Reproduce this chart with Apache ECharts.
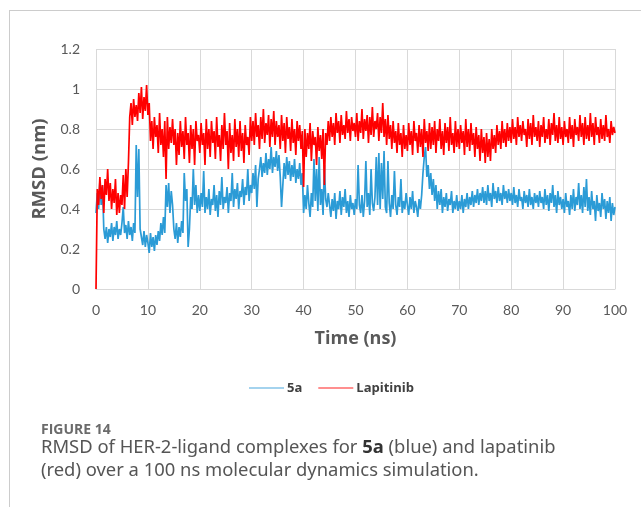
<!DOCTYPE html>
<html>
<head>
<meta charset="utf-8">
<title>RMSD of HER-2-ligand complexes</title>
<script src="https://cdn.jsdelivr.net/npm/echarts@6/dist/echarts.min.js"></script>
<style>
  html, body { margin: 0; padding: 0; background: #fff; }
  #chart { width: 641px; height: 507px; }
</style>
</head>
<body>
<div id="chart"></div>
<script>
// time step between samples (ns)
const timeStep = 0.25;

const xTicks = [0, 10, 20, 30, 40, 50, 60, 70, 80, 90, 100];
const yTicks = [0, 0.2, 0.4, 0.6, 0.8, 1, 1.2];

const seriesNames = ["5a", "Lapitinib"];

// 5a, one row = 5 ns
const rmsd5a = [
  0.38, 0.48, 0.40, 0.54, 0.42, 0.52, 0.30, 0.25, 0.31, 0.23, 0.30, 0.26, 0.33, 0.24, 0.31, 0.27, 0.34, 0.25, 0.30, 0.27,
  0.33, 0.41, 0.28, 0.32, 0.25, 0.34, 0.27, 0.31, 0.24, 0.33, 0.28, 0.72, 0.46, 0.70, 0.30, 0.26, 0.22, 0.29, 0.21, 0.27,
  0.23, 0.18, 0.28, 0.21, 0.26, 0.19, 0.27, 0.22, 0.29, 0.24, 0.33, 0.27, 0.36, 0.28, 0.52, 0.41, 0.53, 0.38, 0.49, 0.42,
  0.30, 0.25, 0.33, 0.23, 0.31, 0.26, 0.34, 0.28, 0.58, 0.44, 0.50, 0.21, 0.30, 0.46, 0.40, 0.60, 0.42, 0.52, 0.38, 0.47,
  0.39, 0.48, 0.41, 0.59, 0.38, 0.46, 0.40, 0.50, 0.37, 0.45, 0.42, 0.52, 0.39, 0.47, 0.36, 0.49, 0.42, 0.56, 0.40, 0.46,
  0.43, 0.51, 0.38, 0.48, 0.44, 0.58, 0.41, 0.50, 0.45, 0.53, 0.40, 0.49, 0.46, 0.55, 0.42, 0.51, 0.47, 0.60, 0.44, 0.52,
  0.48, 0.58, 0.50, 0.62, 0.41, 0.55, 0.60, 0.66, 0.56, 0.63, 0.58, 0.68, 0.57, 0.65, 0.60, 0.71, 0.58, 0.66, 0.61, 0.69,
  0.59, 0.67, 0.56, 0.41, 0.52, 0.63, 0.55, 0.66, 0.57, 0.64, 0.54, 0.62, 0.56, 0.65, 0.53, 0.60, 0.55, 0.63, 0.52, 0.58,
  0.38, 0.47, 0.40, 0.52, 0.43, 0.36, 0.48, 0.41, 0.65, 0.44, 0.60, 0.39, 0.66, 0.42, 0.50, 0.37, 0.62, 0.45, 0.41, 0.48,
  0.42, 0.36, 0.45, 0.39, 0.48, 0.35, 0.44, 0.40, 0.49, 0.37, 0.46, 0.41, 0.50, 0.38, 0.44, 0.36, 0.47, 0.40, 0.43, 0.37,
  0.45, 0.40, 0.62, 0.42, 0.38, 0.47, 0.36, 0.44, 0.64, 0.41, 0.48, 0.37, 0.60, 0.43, 0.39, 0.46, 0.66, 0.42, 0.68, 0.40,
  0.63, 0.45, 0.69, 0.41, 0.38, 0.64, 0.43, 0.36, 0.47, 0.40, 0.59, 0.42, 0.37, 0.46, 0.41, 0.55, 0.38, 0.44, 0.40, 0.48,
  0.42, 0.37, 0.46, 0.40, 0.49, 0.38, 0.44, 0.41, 0.36, 0.45, 0.40, 0.47, 0.58, 0.66, 0.71, 0.56, 0.62, 0.50, 0.58, 0.47,
  0.55, 0.44, 0.52, 0.40, 0.49, 0.42, 0.50, 0.38, 0.46, 0.41, 0.48, 0.39, 0.45, 0.42, 0.49, 0.38, 0.44, 0.40, 0.47, 0.39,
  0.44, 0.40, 0.47, 0.38, 0.45, 0.41, 0.48, 0.40, 0.46, 0.42, 0.49, 0.41, 0.47, 0.43, 0.50, 0.42, 0.48, 0.44, 0.51, 0.43,
  0.49, 0.42, 0.52, 0.44, 0.48, 0.41, 0.53, 0.45, 0.49, 0.43, 0.51, 0.44, 0.48, 0.42, 0.52, 0.45, 0.49, 0.43, 0.50, 0.44,
  0.48, 0.42, 0.51, 0.43, 0.47, 0.41, 0.50, 0.44, 0.46, 0.40, 0.49, 0.43, 0.47, 0.41, 0.50, 0.42, 0.46, 0.40, 0.48, 0.43,
  0.47, 0.41, 0.49, 0.43, 0.46, 0.40, 0.50, 0.42, 0.47, 0.39, 0.48, 0.43, 0.52, 0.41, 0.47, 0.38, 0.49, 0.42, 0.46, 0.40,
  0.45, 0.38, 0.48, 0.41, 0.44, 0.37, 0.47, 0.40, 0.50, 0.39, 0.46, 0.42, 0.53, 0.40, 0.47, 0.38, 0.51, 0.41, 0.55, 0.39,
  0.46, 0.37, 0.49, 0.40, 0.44, 0.34, 0.47, 0.39, 0.43, 0.36, 0.48, 0.40, 0.45, 0.35, 0.44, 0.38, 0.46, 0.34, 0.43, 0.37,
  0.41
];

// Lapitinib, one row = 5 ns
const rmsdLapitinib = [
  0.00, 0.50, 0.42, 0.56, 0.45, 0.52, 0.38, 0.55, 0.47, 0.60, 0.44, 0.53, 0.40, 0.50, 0.43, 0.55, 0.37, 0.48, 0.38, 0.47,
  0.42, 0.57, 0.40, 0.60, 0.46, 0.63, 0.86, 0.93, 0.82, 0.95, 0.86, 0.92, 0.84, 0.98, 0.88, 1.01, 0.85, 0.96, 0.89, 1.02,
  0.87, 0.93, 0.74, 0.84, 0.70, 0.86, 0.76, 0.82, 0.68, 0.88, 0.72, 0.80, 0.66, 0.84, 0.55, 0.86, 0.70, 0.81, 0.73, 0.85,
  0.72, 0.80, 0.62, 0.78, 0.67, 0.84, 0.71, 0.79, 0.65, 0.86, 0.72, 0.78, 0.63, 0.82, 0.70, 0.80, 0.62, 0.84, 0.74, 0.77,
  0.68, 0.83, 0.72, 0.78, 0.62, 0.85, 0.70, 0.80, 0.66, 0.84, 0.73, 0.79, 0.65, 0.86, 0.71, 0.77, 0.64, 0.82, 0.70, 0.88,
  0.72, 0.79, 0.60, 0.83, 0.68, 0.77, 0.64, 0.85, 0.71, 0.80, 0.66, 0.84, 0.69, 0.78, 0.63, 0.82, 0.72, 0.76, 0.67, 0.86,
  0.74, 0.84, 0.72, 0.88, 0.76, 0.82, 0.70, 0.86, 0.75, 0.90, 0.73, 0.83, 0.77, 0.87, 0.71, 0.85, 0.76, 0.89, 0.72, 0.84,
  0.76, 0.82, 0.70, 0.87, 0.74, 0.83, 0.68, 0.86, 0.75, 0.81, 0.69, 0.85, 0.73, 0.80, 0.67, 0.84, 0.74, 0.82, 0.70, 0.79,
  0.51, 0.80, 0.66, 0.78, 0.70, 0.83, 0.64, 0.79, 0.72, 0.76, 0.62, 0.81, 0.69, 0.77, 0.65, 0.80, 0.52, 0.78, 0.72, 0.84,
  0.74, 0.86, 0.76, 0.83, 0.72, 0.88, 0.78, 0.84, 0.73, 0.87, 0.77, 0.82, 0.75, 0.89, 0.78, 0.85, 0.74, 0.86, 0.79, 0.83,
  0.76, 0.88, 0.74, 0.84, 0.78, 0.90, 0.75, 0.85, 0.79, 0.87, 0.73, 0.86, 0.77, 0.91, 0.76, 0.84, 0.80, 0.88, 0.74, 0.86,
  0.78, 0.93, 0.76, 0.85, 0.72, 0.87, 0.75, 0.82, 0.70, 0.84, 0.73, 0.79, 0.68, 0.83, 0.72, 0.78, 0.66, 0.82, 0.70, 0.77,
  0.69, 0.83, 0.72, 0.79, 0.67, 0.84, 0.74, 0.78, 0.68, 0.82, 0.71, 0.80, 0.66, 0.85, 0.73, 0.79, 0.69, 0.83, 0.70, 0.81,
  0.72, 0.84, 0.68, 0.80, 0.74, 0.85, 0.70, 0.79, 0.67, 0.83, 0.73, 0.81, 0.69, 0.86, 0.72, 0.78, 0.68, 0.84, 0.71, 0.80,
  0.70, 0.82, 0.73, 0.79, 0.67, 0.85, 0.71, 0.80, 0.69, 0.83, 0.72, 0.78, 0.66, 0.81, 0.70, 0.77, 0.64, 0.80, 0.68, 0.76,
  0.63, 0.78, 0.66, 0.75, 0.64, 0.80, 0.70, 0.77, 0.68, 0.82, 0.72, 0.79, 0.70, 0.84, 0.73, 0.80, 0.71, 0.83, 0.74, 0.81,
  0.73, 0.85, 0.75, 0.81, 0.72, 0.86, 0.76, 0.82, 0.74, 0.84, 0.77, 0.80, 0.71, 0.85, 0.75, 0.83, 0.72, 0.87, 0.76, 0.81,
  0.74, 0.84, 0.71, 0.82, 0.76, 0.86, 0.73, 0.80, 0.75, 0.85, 0.72, 0.83, 0.77, 0.88, 0.74, 0.82, 0.73, 0.86, 0.75, 0.81,
  0.72, 0.84, 0.76, 0.80, 0.73, 0.86, 0.75, 0.82, 0.71, 0.85, 0.77, 0.81, 0.74, 0.87, 0.76, 0.83, 0.72, 0.86, 0.75, 0.82,
  0.74, 0.88, 0.76, 0.83, 0.72, 0.86, 0.77, 0.81, 0.73, 0.85, 0.75, 0.82, 0.74, 0.87, 0.76, 0.80, 0.73, 0.84, 0.77, 0.81,
  0.78
];

const seriesColors = ["#2b9bd6", "#ff0000"];
const legendColors = ["#4aa8de", "#ff2020"];

const captionLabel = "FIGURE 14";
const captionLine1 = ["RMSD of HER-2-ligand complexes for ", "5a", " (blue) and lapatinib"];
const captionLine2 = "(red) over a 100 ns molecular dynamics simulation.";

function toPairs(values) {
  return values.map((v, i) => [i * timeStep, v]);
}

const chart = echarts.init(document.getElementById("chart"), null, { renderer: "canvas" });

const axisText = "#595959";
const gridColor = "#d9d9d9";
const tickFont = "Lato";
const titleFont = "Open Sans";
const captionFont = "Noto Sans";

const option = {
  animation: false,
  backgroundColor: "#ffffff",
  grid: { left: 96, right: 26, top: 49, bottom: 218, containLabel: false },
  legend: {
    left: 249,
    top: 381,
    padding: 0,
    icon: "rect",
    itemWidth: 35,
    itemHeight: 1.2,
    itemGap: 16,
    lineStyle: { width: 1 },
    data: seriesNames.map((name, i) => ({
      name,
      itemStyle: { color: legendColors[i], borderWidth: 0 },
    })),
    textStyle: {
      fontFamily: titleFont,
      fontWeight: "bold",
      fontSize: 13,
      color: "#404040",
      padding: [0, 0, 0, -2],
      lineHeight: 14,
    },
  },
  xAxis: {
    type: "value",
    min: xTicks[0],
    max: xTicks[xTicks.length - 1],
    interval: 10,
    name: "Time (ns)",
    nameLocation: "middle",
    nameGap: 41,
    nameTextStyle: { fontFamily: titleFont, fontWeight: "bold", fontSize: 18, color: axisText },
    axisLine: { show: true, lineStyle: { color: gridColor, width: 1 } },
    axisTick: { show: false },
    axisLabel: { fontFamily: tickFont, fontSize: 14, color: axisText, margin: 14 },
    splitLine: { show: true, lineStyle: { color: gridColor, width: 1 } },
  },
  yAxis: {
    type: "value",
    min: yTicks[0],
    max: yTicks[yTicks.length - 1],
    interval: 0.2,
    name: "RMSD (nm)",
    nameLocation: "middle",
    nameGap: 39,
    nameTextStyle: { fontFamily: titleFont, fontWeight: "bold", fontSize: 18.5, color: axisText },
    axisLine: { show: false },
    axisTick: { show: false },
    axisLabel: {
      fontFamily: tickFont,
      fontSize: 14,
      color: axisText,
      margin: 16,
      formatter: (v) => String(Math.round(v * 10) / 10),
    },
    splitLine: { show: true, lineStyle: { color: gridColor, width: 1 } },
  },
  series: [
    {
      name: seriesNames[0],
      type: "line",
      symbol: "none",
      data: toPairs(rmsd5a),
      lineStyle: { color: seriesColors[0], width: 1.7 },
      itemStyle: { color: seriesColors[0] },
    },
    {
      name: seriesNames[1],
      type: "line",
      symbol: "none",
      data: toPairs(rmsdLapitinib),
      lineStyle: { color: seriesColors[1], width: 1.7 },
      itemStyle: { color: seriesColors[1] },
    },
  ],
  graphic: [
    { type: "line", shape: { x1: 9, y1: 10.5, x2: 641, y2: 10.5 }, style: { stroke: "#cccccc", lineWidth: 1 } },
    { type: "line", shape: { x1: 9.5, y1: 10, x2: 9.5, y2: 507 }, style: { stroke: "#cccccc", lineWidth: 1 } },
    {
      type: "text",
      left: 41,
      top: 423,
      style: { text: captionLabel, fontFamily: titleFont, fontWeight: "bold", fontSize: 14, fill: "#6b6b6b" },
    },
    {
      type: "text",
      left: 41,
      top: 439,
      style: {
        text: "{n|" + captionLine1[0] + "}{b|" + captionLine1[1] + "}{n|" + captionLine1[2] + "}",
        rich: {
          n: { fontFamily: captionFont, fontSize: 18.4, fill: "#555555" },
          b: { fontFamily: captionFont, fontSize: 18.4, fontWeight: "bold", fill: "#333333" },
        },
      },
    },
    {
      type: "text",
      left: 41,
      top: 462,
      style: { text: captionLine2, fontFamily: captionFont, fontSize: 18.4, fill: "#555555" },
    },
  ],
};

chart.setOption(option);
</script>
</body>
</html>
